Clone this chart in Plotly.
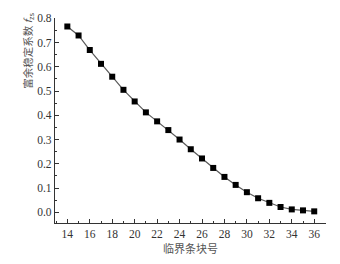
import plotly.graph_objects as go

blocks = list(range(14, 37))
fzs = [0.766, 0.729, 0.669, 0.612, 0.559, 0.505, 0.457, 0.412, 0.375, 0.339,
       0.300, 0.260, 0.222, 0.183, 0.146, 0.113, 0.083, 0.058, 0.039, 0.022,
       0.012, 0.008, 0.004]

x_ticks = list(range(14, 37, 2))
y_ticks = [0.0, 0.1, 0.2, 0.3, 0.4, 0.5, 0.6, 0.7, 0.8]

fig = go.Figure()
fig.add_trace(go.Scatter(
    x=blocks, y=fzs, mode="lines+markers",
    line=dict(color="#5a5a5a", width=1.2),
    marker=dict(symbol="square", size=6, color="#000000"),
    showlegend=False,
))

font_serif = "Liberation Serif, Times New Roman, serif"
fig.update_layout(
    width=340, height=264,
    margin=dict(l=55, r=14, t=14, b=33),
    paper_bgcolor="white", plot_bgcolor="white",
    font=dict(family=font_serif, size=11, color="#333333"),
)
fig.update_xaxes(
    range=[12.9, 37.05], tickmode="array", tickvals=x_ticks,
    ticktext=[str(v) for v in x_ticks],
    ticks="inside", ticklen=4, tickwidth=1, tickcolor="#333",
    minor=dict(ticks="inside", ticklen=2, dtick=1, tick0=13, tickcolor="#333"),
    showline=True, linecolor="#333", linewidth=1.2,
    showgrid=False, zeroline=False,
    title=dict(text="临界条块号", font=dict(family="Noto Sans CJK SC", size=11, color="#555"), standoff=4),
    tickfont=dict(size=11.5),
)
fig.update_yaxes(
    range=[-0.044, 0.801], tickmode="array", tickvals=y_ticks,
    ticktext=[f"{v:.1f}" for v in y_ticks],
    ticks="inside", ticklen=4, tickwidth=1, tickcolor="#333",
    minor=dict(ticks="inside", ticklen=2, dtick=0.05, tick0=0.05, tickcolor="#333"),
    showline=True, linecolor="#333", linewidth=1.2,
    showgrid=False, zeroline=False,
    tickfont=dict(size=11.5),
)
fig.add_annotation(
    text="富余稳定系数 <i>f</i><sub>zs</sub>",
    xref="paper", yref="paper", x=-0.1, y=0.84,
    xanchor="center", yanchor="middle", textangle=-90, showarrow=False,
    font=dict(family="Noto Sans CJK SC", size=10.5, color="#555"),
)

fig.write_html("out.html")
